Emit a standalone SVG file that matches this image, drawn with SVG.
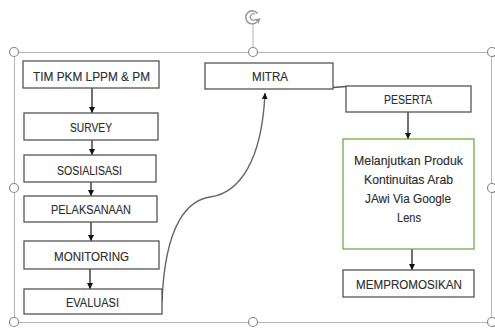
<svg xmlns="http://www.w3.org/2000/svg" width="495" height="329" viewBox="0 0 495 329">
<defs>
<marker id="ah" viewBox="0 0 10 10" refX="10" refY="5" markerWidth="6" markerHeight="6" markerUnits="userSpaceOnUse" orient="auto">
<path d="M0,0 L10,5 L0,10 z" fill="#111"/>
</marker>
<style>
.box{fill:#fff;stroke:#555;stroke-width:1.3}
.gbox{fill:#fff;stroke:#70ad47;stroke-width:1.3}
.t{font-family:"Liberation Sans",Arial,sans-serif;font-size:13.5px;fill:#2e2e2e;text-anchor:middle;stroke:#2e2e2e;stroke-width:0.15}
.c{fill:none;stroke:#111;stroke-width:1.2}
.cv{fill:none;stroke:#666;stroke-width:1.4}
.frame{fill:none;stroke:#b5b5b5;stroke-width:1}
.h{fill:#fff;stroke:#8a8a8a;stroke-width:1.2}
</style>
</defs>
<rect width="495" height="329" fill="#fff"/>
<g id="frame">
<line class="frame" x1="253" y1="25" x2="253" y2="52"/>
<rect class="frame" x="14.5" y="52.5" width="477" height="270"/>
<path d="M257.6,13.6 A6.5,6.5 0 1 0 256.5,22.3" fill="none" stroke="#9a9a9a" stroke-width="1.6"/>
<path d="M255,14.2 A3.2,3.2 0 1 0 255.3,19.6" fill="none" stroke="#9a9a9a" stroke-width="1.2"/>
<path d="M254.5,19.3 L260.5,18.2 L258.6,23.8 z" fill="#9a9a9a"/>
<circle class="h" cx="14" cy="52" r="4.5"/>
<circle class="h" cx="253" cy="52" r="4.5"/>
<circle class="h" cx="492" cy="52" r="4.5"/>
<circle class="h" cx="14" cy="188" r="4.5"/>
<circle class="h" cx="492" cy="188" r="4.5"/>
<circle class="h" cx="14" cy="322" r="4.5"/>
<circle class="h" cx="253" cy="322" r="4.5"/>
<circle class="h" cx="492" cy="322" r="4.5"/>
</g>
<g id="connectors">
<line class="c" x1="92" y1="88" x2="92" y2="113" marker-end="url(#ah)"/>
<line class="c" x1="92" y1="140" x2="92" y2="155" marker-end="url(#ah)"/>
<line class="c" x1="91" y1="182" x2="91" y2="196" marker-end="url(#ah)"/>
<line class="c" x1="91" y1="222" x2="91" y2="241" marker-end="url(#ah)"/>
<line class="c" x1="90" y1="269" x2="90" y2="289" marker-end="url(#ah)"/>
<path class="cv" d="M162,302 C165,220 190,200 210,197 C240,193 262,160 265,93" marker-end="url(#ah)"/>
<path d="M333,87.5 L346,86.5" fill="none" stroke="#555" stroke-width="1.3"/>
<line class="c" x1="408" y1="112" x2="408" y2="139" marker-end="url(#ah)"/>
<line class="c" x1="412" y1="249" x2="412" y2="270" marker-end="url(#ah)"/>
</g>
<g id="tim"><rect class="box" x="23" y="61" width="136" height="27"/><text class="t" x="91.5" y="81" textLength="117" lengthAdjust="spacingAndGlyphs">TIM PKM LPPM &amp; PM</text></g>
<g id="survey"><rect class="box" x="24" y="113" width="134" height="27"/><text class="t" x="91" y="132" textLength="42" lengthAdjust="spacingAndGlyphs">SURVEY</text></g>
<g id="sosialisasi"><rect class="box" x="24" y="155" width="132" height="27"/><text class="t" x="89.5" y="175" textLength="65" lengthAdjust="spacingAndGlyphs">SOSIALISASI</text></g>
<g id="pelaksanaan"><rect class="box" x="24" y="196" width="133" height="26"/><text class="t" x="91" y="214" textLength="80" lengthAdjust="spacingAndGlyphs">PELAKSANAAN</text></g>
<g id="monitoring"><rect class="box" x="24" y="241" width="135" height="28"/><text class="t" x="91.5" y="261" textLength="75" lengthAdjust="spacingAndGlyphs">MONITORING</text></g>
<g id="evaluasi"><rect class="box" x="24" y="289" width="138" height="25"/><text class="t" x="92.5" y="307" textLength="53" lengthAdjust="spacingAndGlyphs">EVALUASI</text></g>
<g id="mitra"><rect class="box" x="205" y="63" width="128" height="26"/><text class="t" x="270" y="81" textLength="36" lengthAdjust="spacingAndGlyphs">MITRA</text></g>
<g id="peserta"><rect class="box" x="346" y="86" width="125" height="26"/><text class="t" x="408" y="104" textLength="48" lengthAdjust="spacingAndGlyphs">PESERTA</text></g>
<g id="melanjutkan"><rect class="gbox" x="343" y="139" width="131" height="110"/>
<text class="t" x="408.5" y="165" textLength="109" lengthAdjust="spacingAndGlyphs">Melanjutkan Produk</text>
<text class="t" x="408.5" y="184" textLength="89" lengthAdjust="spacingAndGlyphs">Kontinuitas Arab</text>
<text class="t" x="408" y="203" textLength="86" lengthAdjust="spacingAndGlyphs">JAwi Via Google</text>
<text class="t" x="409" y="222" textLength="24" lengthAdjust="spacingAndGlyphs">Lens</text></g>
<g id="mempromosikan"><rect class="box" x="343" y="270" width="131" height="27"/><text class="t" x="409" y="289" textLength="106" lengthAdjust="spacingAndGlyphs">MEMPROMOSIKAN</text></g>
</svg>
